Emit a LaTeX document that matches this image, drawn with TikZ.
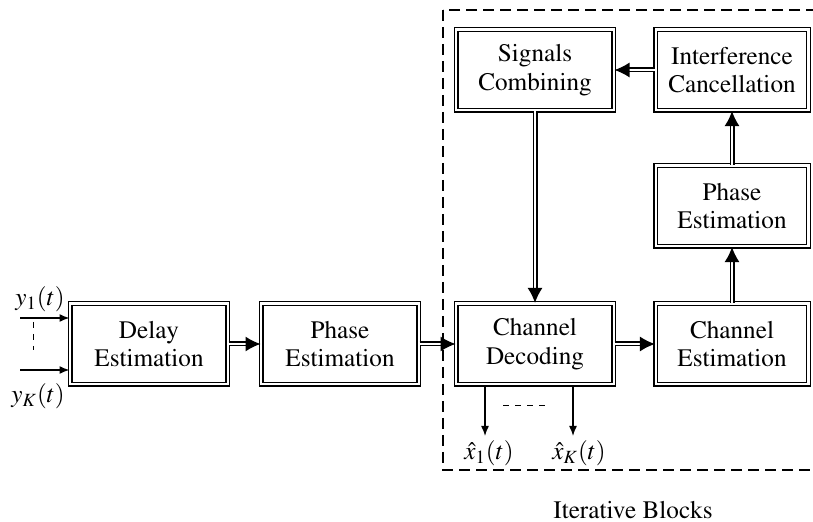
\documentclass[tikz,border=0pt]{standalone}
\usepackage[T1]{fontenc}
\usepackage{mathptmx}
\usetikzlibrary{arrows,arrows.meta,positioning}
\tikzstyle{block} = [rectangle, draw, double, line width=0.7pt, double distance=1.1pt, minimum width=78.8pt, minimum height=40.4pt, align=center, font=\fontsize{12.6}{14.4}\selectfont]
\tikzstyle{dblarrow} = [draw, double, line width=0.65pt, double distance=1.2pt, -{Latex[length=7.5pt,width=7.5pt]}]
\tikzstyle{arrow} = [line width=0.7pt, -{Latex[length=5pt,width=4pt]}]
\tikzstyle{lbl} = [font=\fontsize{12.6}{14.4}\selectfont]

\begin{document}
\begin{tikzpicture}[x=0.5pt, y=-0.5pt]
\clip (0,0) rectangle (813,522);

% Main chain
\node (delay) [block] at (149,344) {Delay\\Estimation};
\node (phase1) [block] at (340,344) {Phase\\Estimation};
\node (decoding) [block] at (535,344) {Channel\\Decoding};
\node (chest) [block, minimum width=76.4pt] at (732,344) {Channel\\Estimation};

% Iterative part
\node (phase2) [block, minimum width=76.4pt] at (732,206) {Phase\\Estimation};
\node (interf) [block, minimum width=76.4pt] at (732,70) {Interference\\Cancellation};
\node (combin) [block] at (535,70) {Signals\\Combining};

% Frame of the iterative blocks
\draw[line width=0.9pt, dash pattern=on 5.5pt off 3pt] (443,10) rectangle (850,470);
\node (iter) [lbl] at (633,510) {Iterative Blocks};

% Connections
\draw[dblarrow] (delay) -- (phase1);
\draw[dblarrow] (phase1) -- (decoding);
\draw[dblarrow] (decoding) -- (chest);
\draw[dblarrow] (chest) -- (phase2);
\draw[dblarrow] (phase2) -- (interf);
\draw[dblarrow] (interf) -- (combin);
\draw[dblarrow] (combin) -- (decoding);

% Inputs
\coordinate (in1) at (20,318);
\coordinate (inK) at (20,370);
\draw[arrow] (in1) -- (in1 -| delay.west);
\draw[arrow] (inK) -- (inK -| delay.west);
\node (y1) [lbl] at (40,299) {$y_1(t)$};
\node (yK) [lbl] at (38,396) {$y_K(t)$};
\draw[dashed] (33,322) -- (33,350);

% Outputs
\coordinate (out1) at (485,436);
\coordinate (outK) at (573,436);
\draw[arrow] (out1 |- decoding.south) -- (out1);
\draw[arrow] (outK |- decoding.south) -- (outK);
\node (x1) [lbl] at (489,453) {$\hat{x}_1(t)$};
\node (xK) [lbl] at (579,453) {$\hat{x}_K(t)$};
\draw[dashed] (503,405) -- (545,405);
\end{tikzpicture}
\end{document}
